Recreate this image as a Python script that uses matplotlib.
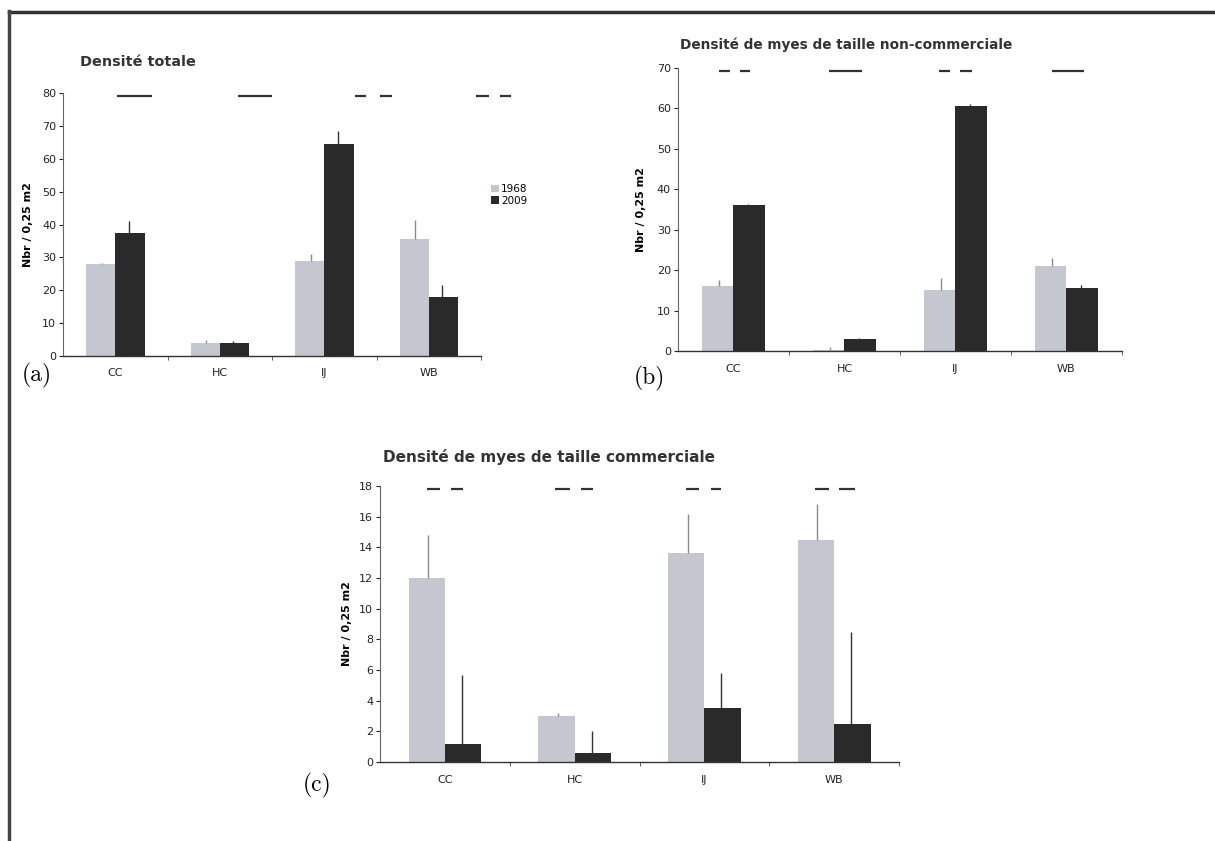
import numpy as np
import matplotlib.pyplot as plt
from matplotlib.lines import Line2D

sites = ['CC', 'HC', 'IJ', 'WB']
years = ['1968', '2009']

# (a) densite totale
tot_1968 = [28.0, 4.0, 29.0, 35.5]
tot_2009 = [37.5, 4.0, 64.5, 18.0]
tot_err_1968 = [0.3, 1.0, 2.0, 6.0]
tot_err_2009 = [3.5, 0.5, 4.0, 3.5]

# (b) taille non-commerciale
nc_1968 = [16.0, 0.3, 15.0, 21.0]
nc_2009 = [36.0, 3.0, 60.5, 15.5]
nc_err_1968 = [1.5, 0.6, 3.0, 2.0]
nc_err_2009 = [0.3, 0.3, 0.5, 0.8]

# (c) taille commerciale
com_1968 = [12.0, 3.0, 13.6, 14.5]
com_2009 = [1.2, 0.6, 3.5, 2.5]
com_err_1968 = [2.8, 0.2, 2.6, 2.3]
com_err_2009 = [4.5, 1.4, 2.3, 6.0]

# significance dashes drawn at the top of each panel (x in category units)
sig_a = [(0.02, 0.35), (1.17, 1.50), (2.29, 2.40), (2.53, 2.65), (3.45, 3.58), (3.68, 3.79)]
sig_b = [(-0.13, -0.03), (0.06, 0.15), (0.86, 1.16), (1.85, 1.95), (2.04, 2.15), (2.87, 3.16)]
sig_c = [(-0.14, -0.04), (0.05, 0.14), (0.85, 0.96), (1.05, 1.14), (1.86, 1.96),
         (2.05, 2.13), (2.85, 2.96), (3.04, 3.16)]

grey = '#c4c7cf'
black = '#2a2a2a'
w = 0.28

fig = plt.figure(figsize=(12.15, 8.41), dpi=100)
plt.rcParams['font.family'] = 'DejaVu Sans'


def panel(rect, v68, v09, e68, e09, ymax, ystep, sig, title, tpos, tsize, ylab_x):
    ax = fig.add_axes(rect)
    x = np.arange(len(sites))
    ax.bar(x - w / 2, v68, w, color=grey, label=years[0], zorder=2)
    ax.bar(x + w / 2, v09, w, color=black, label=years[1], zorder=2)
    ax.errorbar(x - w / 2 + 0.01, v68, yerr=[np.zeros(4), e68], fmt='none',
                ecolor='#8a8a8a', elinewidth=1.0, capsize=0, zorder=3)
    ax.errorbar(x + w / 2 - 0.01, v09, yerr=[np.zeros(4), e09], fmt='none',
                ecolor='#333333', elinewidth=1.0, capsize=0, zorder=3)
    for x0, x1 in sig:
        ax.plot([x0, x1], [ymax * 0.99, ymax * 0.99], color='#333333', lw=1.6,
                clip_on=False, solid_capstyle='butt')
    ax.set_xlim(-0.5, 3.5)
    ax.set_ylim(0, ymax)
    ax.set_yticks(np.arange(0, ymax + 0.1, ystep))
    ax.set_xticks(x)
    ax.set_xticklabels(sites)
    ax.set_xticks([0.5, 1.5, 2.5, 3.5], minor=True)
    ax.tick_params(axis='x', which='major', length=0, pad=9, labelsize=8, colors='#222222')
    ax.tick_params(axis='x', which='minor', length=3, direction='out', color='#444444')
    ax.tick_params(axis='y', length=3, direction='out', labelsize=8, colors='#222222', pad=2)
    for s in ['top', 'right']:
        ax.spines[s].set_visible(False)
    ax.spines['left'].set_color('#666666')
    ax.spines['bottom'].set_color('#333333')
    ax.spines['bottom'].set_linewidth(1.0)
    ax.set_ylabel('Nbr / 0,25 m2', fontsize=8, fontweight='bold')
    ax.yaxis.set_label_coords(ylab_x, 0.5)
    ax.text(tpos[0], tpos[1], title, transform=ax.transAxes, fontsize=tsize,
            fontweight='bold', color='#333333', ha='left', va='center')
    return ax


ax_a = panel([0.0519, 0.5767, 0.344, 0.3127], tot_1968, tot_2009, tot_err_1968, tot_err_2009,
             80, 10, sig_a, 'Densité totale', (0.04, 1.118), 10.4, -0.072)
ax_a.legend(loc='upper left', bbox_to_anchor=(1.015, 0.67), frameon=False, fontsize=7.5,
            handlelength=0.7, handleheight=0.7, handletextpad=0.2, labelspacing=0.15,
            borderaxespad=0)

ax_b = panel([0.558, 0.5826, 0.3654, 0.3365], nc_1968, nc_2009, nc_err_1968, nc_err_2009,
             70, 10, sig_b, 'Densité de myes de taille non-commerciale', (0.005, 1.081), 9.8, -0.072)

ax_c = panel([0.3128, 0.0939, 0.4272, 0.3282], com_1968, com_2009, com_err_1968, com_err_2009,
             18, 2, sig_c, 'Densité de myes de taille commerciale', (0.006, 1.105), 11.0, -0.054)

# panel letters
fig.text(22 / 1215, 1 - 375 / 841, '(a)', fontsize=17, family='cmr10', va='center')
fig.text(634 / 1215, 1 - 378 / 841, '(b)', fontsize=17, family='cmr10', va='center')
fig.text(303 / 1215, 1 - 785 / 841, '(c)', fontsize=17, family='cmr10', va='center')

# scanned page frame
fig.add_artist(Line2D([9 / 1215, 1.0], [1 - 12 / 841, 1 - 12 / 841], color='#333333', lw=2.5))
fig.add_artist(Line2D([9 / 1215, 9 / 1215], [0.0, 1 - 11 / 841], color='#444444', lw=2.5))

fig.savefig('out.png', dpi=100)
